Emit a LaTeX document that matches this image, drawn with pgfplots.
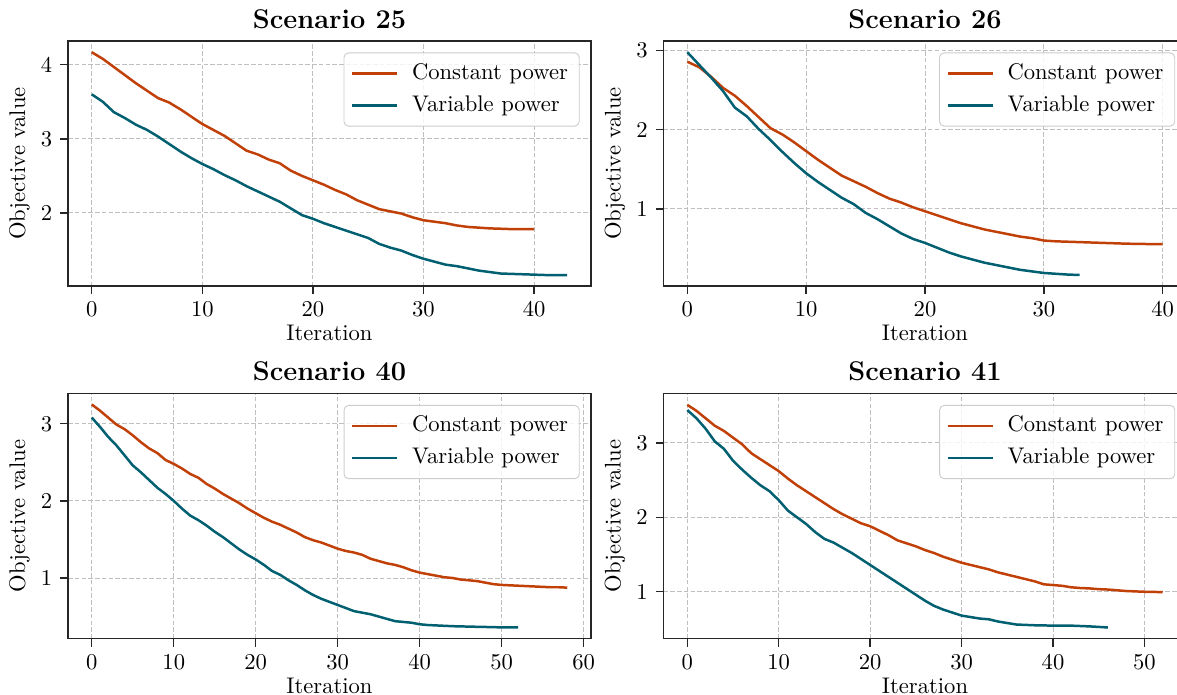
\documentclass[border=0pt]{standalone}
\usepackage{pgfplots}
\pgfplotsset{compat=1.18}
\definecolor{constc}{RGB}{192,64,8}
\definecolor{varc}{RGB}{0,95,112}

\pgfplotsset{
  panel/.style={
    scale only axis, width=231.4pt, height=108.4pt,
    anchor=south west,
    axis line style={black!85, line width=0.6pt},
    tick style={black!85, line width=0.6pt},
    tick align=outside, major tick length=3.5pt,
    xtick pos=lower, ytick pos=left,
    grid=major,
    major grid style={dash pattern=on 2pt off 1pt, gray!50, line width=0.4pt},
    title style={font=\large\bfseries, yshift=-4pt},
    xlabel={Iteration}, ylabel={Objective value},
    xlabel style={yshift=3pt}, ylabel style={yshift=-2pt},
    legend cell align=left,
    legend style={at={(1,1)}, anchor=north east, xshift=-5pt, yshift=-5pt,
      draw=black!20, rounded corners=2pt, fill=white, fill opacity=0.8,
      text opacity=1, font=\normalsize, inner xsep=3pt, inner ysep=2pt,
      nodes={text height=7pt, text depth=2pt, inner ysep=2.6pt},
      /tikz/every odd column/.append style={column sep=4pt}},
    legend image code/.code={\draw[##1] (0pt,0pt) -- (20pt,0pt);},
    every axis plot/.append style={line width=1.1pt, no markers},
  }
}

\begin{document}
\begin{tikzpicture}
% Scenario 25
\begin{axis}[panel, at={(30.1pt,-126.6pt)}, title={Scenario 25},
  xmin=-2.15, xmax=45.15, ymin=1.01, ymax=4.32,
  xtick={0,10,20,30,40}, ytick={2,3,4}]
\addplot[constc] coordinates {
(0,4.17)(1,4.08)(2,3.97)(3,3.86)(4,3.75)(5,3.65)(6,3.55)(7,3.49)(8,3.40)(9,3.30)
(10,3.20)(11,3.12)(12,3.04)(13,2.94)(14,2.84)(15,2.79)(16,2.72)(17,2.67)(18,2.57)(19,2.50)
(20,2.44)(21,2.38)(22,2.31)(23,2.25)(24,2.17)(25,2.11)(26,2.05)(27,2.02)(28,1.99)(29,1.94)
(30,1.90)(31,1.88)(32,1.86)(33,1.83)(34,1.81)(35,1.80)(36,1.79)(37,1.785)(38,1.78)(39,1.78)(40,1.78)};
\addplot[varc] coordinates {
(0,3.60)(1,3.50)(2,3.36)(3,3.28)(4,3.19)(5,3.12)(6,3.03)(7,2.93)(8,2.83)(9,2.74)
(10,2.66)(11,2.59)(12,2.51)(13,2.44)(14,2.36)(15,2.29)(16,2.22)(17,2.15)(18,2.06)(19,1.97)
(20,1.92)(21,1.86)(22,1.81)(23,1.76)(24,1.71)(25,1.66)(26,1.58)(27,1.53)(28,1.49)(29,1.43)
(30,1.38)(31,1.34)(32,1.30)(33,1.28)(34,1.25)(35,1.22)(36,1.20)(37,1.18)(38,1.175)(39,1.17)
(40,1.165)(41,1.16)(42,1.16)(43,1.16)};
\legend{Constant power, Variable power}
\end{axis}

% Scenario 26
\begin{axis}[panel, at={(293.6pt,-126.6pt)}, title={Scenario 26},
  xmin=-2, xmax=42, ymin=0.024, ymax=3.12,
  xtick={0,10,20,30,40}, ytick={1,2,3}]
\addplot[constc] coordinates {
(0,2.86)(1,2.79)(2,2.67)(3,2.53)(4,2.43)(5,2.30)(6,2.16)(7,2.02)(8,1.94)(9,1.84)
(10,1.73)(11,1.62)(12,1.52)(13,1.42)(14,1.35)(15,1.28)(16,1.20)(17,1.13)(18,1.08)(19,1.02)
(20,0.97)(21,0.92)(22,0.87)(23,0.82)(24,0.78)(25,0.74)(26,0.71)(27,0.68)(28,0.65)(29,0.63)
(30,0.60)(31,0.59)(32,0.585)(33,0.58)(34,0.575)(35,0.57)(36,0.565)(37,0.56)(38,0.558)(39,0.555)(40,0.553)};
\addplot[varc] coordinates {
(0,2.98)(1,2.82)(2,2.66)(3,2.49)(4,2.28)(5,2.17)(6,2.01)(7,1.87)(8,1.72)(9,1.58)
(10,1.45)(11,1.34)(12,1.24)(13,1.14)(14,1.06)(15,0.95)(16,0.87)(17,0.78)(18,0.69)(19,0.62)
(20,0.57)(21,0.51)(22,0.45)(23,0.40)(24,0.36)(25,0.32)(26,0.29)(27,0.26)(28,0.23)(29,0.21)
(30,0.19)(31,0.18)(32,0.17)(33,0.165)};
\legend{Constant power, Variable power}
\end{axis}

% Scenario 40
\begin{axis}[panel, at={(30.1pt,-282.6pt)}, title={Scenario 40},
  xmin=-2.9, xmax=60.9, ymin=0.213, ymax=3.39,
  xtick={0,10,20,30,40,50,60}, ytick={1,2,3}]
\addplot[constc] coordinates {
(0,3.25)(1,3.17)(2,3.08)(3,2.99)(4,2.93)(5,2.85)(6,2.76)(7,2.68)(8,2.62)(9,2.53)
(10,2.48)(11,2.42)(12,2.35)(13,2.30)(14,2.22)(15,2.16)(16,2.09)(17,2.03)(18,1.97)(19,1.90)
(20,1.84)(21,1.78)(22,1.73)(23,1.69)(24,1.64)(25,1.59)(26,1.53)(27,1.49)(28,1.46)(29,1.42)
(30,1.38)(31,1.35)(32,1.33)(33,1.30)(34,1.25)(35,1.22)(36,1.19)(37,1.17)(38,1.14)(39,1.10)
(40,1.07)(41,1.05)(42,1.03)(43,1.01)(44,1.00)(45,0.98)(46,0.97)(47,0.96)(48,0.94)(49,0.92)
(50,0.91)(51,0.905)(52,0.90)(53,0.895)(54,0.89)(55,0.885)(56,0.88)(57,0.88)(58,0.875)};
\addplot[varc] coordinates {
(0,3.08)(1,2.96)(2,2.83)(3,2.72)(4,2.59)(5,2.46)(6,2.37)(7,2.27)(8,2.17)(9,2.09)
(10,2.00)(11,1.90)(12,1.81)(13,1.75)(14,1.68)(15,1.60)(16,1.53)(17,1.45)(18,1.37)(19,1.30)
(20,1.24)(21,1.17)(22,1.09)(23,1.04)(24,0.97)(25,0.91)(26,0.84)(27,0.78)(28,0.73)(29,0.69)
(30,0.65)(31,0.61)(32,0.57)(33,0.55)(34,0.53)(35,0.50)(36,0.47)(37,0.44)(38,0.43)(39,0.42)
(40,0.40)(41,0.39)(42,0.385)(43,0.38)(44,0.375)(45,0.372)(46,0.37)(47,0.367)(48,0.365)(49,0.362)
(50,0.36)(51,0.36)(52,0.36)};
\legend{Constant power, Variable power}
\end{axis}

% Scenario 41
\begin{axis}[panel, at={(293.6pt,-282.6pt)}, title={Scenario 41},
  xmin=-2.6, xmax=54.6, ymin=0.37, ymax=3.66,
  xtick={0,10,20,30,40,50}, ytick={1,2,3}]
\addplot[constc] coordinates {
(0,3.51)(1,3.43)(2,3.33)(3,3.23)(4,3.16)(5,3.07)(6,2.98)(7,2.86)(8,2.78)(9,2.70)
(10,2.62)(11,2.52)(12,2.43)(13,2.35)(14,2.27)(15,2.19)(16,2.11)(17,2.04)(18,1.98)(19,1.92)
(20,1.88)(21,1.82)(22,1.76)(23,1.69)(24,1.65)(25,1.61)(26,1.56)(27,1.52)(28,1.47)(29,1.43)
(30,1.39)(31,1.36)(32,1.33)(33,1.30)(34,1.26)(35,1.23)(36,1.20)(37,1.17)(38,1.14)(39,1.10)
(40,1.09)(41,1.08)(42,1.06)(43,1.05)(44,1.045)(45,1.035)(46,1.03)(47,1.02)(48,1.01)(49,1.005)
(50,1.00)(51,0.998)(52,0.995)};
\addplot[varc] coordinates {
(0,3.44)(1,3.33)(2,3.19)(3,3.02)(4,2.92)(5,2.76)(6,2.64)(7,2.53)(8,2.43)(9,2.35)
(10,2.23)(11,2.09)(12,2.00)(13,1.91)(14,1.80)(15,1.71)(16,1.66)(17,1.59)(18,1.52)(19,1.44)
(20,1.36)(21,1.28)(22,1.20)(23,1.12)(24,1.04)(25,0.96)(26,0.88)(27,0.81)(28,0.76)(29,0.72)
(30,0.68)(31,0.66)(32,0.64)(33,0.63)(34,0.60)(35,0.58)(36,0.56)(37,0.555)(38,0.55)(39,0.548)
(40,0.545)(41,0.545)(42,0.545)(43,0.54)(44,0.535)(45,0.528)(46,0.52)};
\legend{Constant power, Variable power}
\end{axis}

\pgfresetboundingbox
\useasboundingbox (0pt,0pt) rectangle (520.8pt,-307.5pt);
\end{tikzpicture}
\end{document}
